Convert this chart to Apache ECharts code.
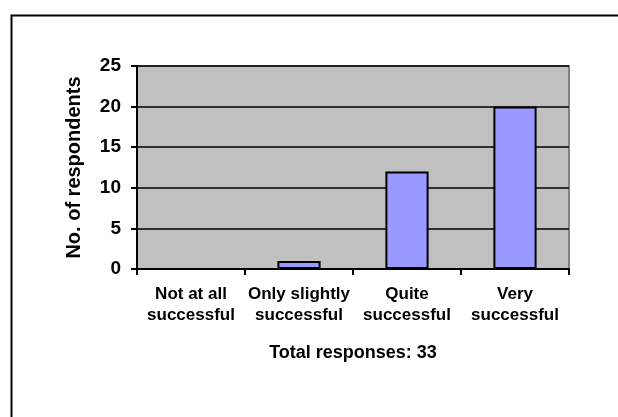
<!DOCTYPE html>
<html>
<head>
<meta charset="utf-8">
<script src="https://cdn.jsdelivr.net/npm/echarts@6/dist/echarts.min.js"></script>
<style>
  html, body { margin: 0; padding: 0; background: #fff; }
  #chart { width: 618px; height: 417px; }
</style>
</head>
<body>
<div id="chart"></div>
<script>
// Survey responses: how successful was it?
const categories = ['Not at all\nsuccessful', 'Only slightly\nsuccessful', 'Quite\nsuccessful', 'Very\nsuccessful'];
const respondents = [0, 1, 12, 20];
const totalResponses = 33;
const yMin = 0, yMax = 25, yStep = 5;

const FONT = '"Liberation Sans", Arial, sans-serif';

const chart = echarts.init(document.getElementById('chart'), null, { renderer: 'canvas' });
chart.setOption({
  animation: false,
  backgroundColor: '#ffffff',
  grid: {
    left: 137, top: 66, right: 49, bottom: 148,
    show: true,
    backgroundColor: '#C0C0C0',
    borderColor: '#808080',
    borderWidth: 2
  },
  graphic: [{
    type: 'rect',
    left: 9, top: 13,
    shape: { width: 700, height: 500 },
    style: { fill: 'none', stroke: '#000', lineWidth: 2 },
    silent: true
  }],
  xAxis: {
    type: 'category',
    data: categories,
    name: 'Total responses: ' + totalResponses,
    nameLocation: 'middle',
    nameGap: 75,
    nameTextStyle: { fontFamily: FONT, fontWeight: 'bold', fontSize: 18, color: '#000' },
    axisLine: { lineStyle: { color: '#000', width: 2 } },
    axisTick: { show: true, length: 6, lineStyle: { color: '#000', width: 2 } },
    axisLabel: {
      margin: 15,
      fontFamily: FONT, fontWeight: 'bold', fontSize: 17, color: '#000',
      lineHeight: 21, interval: 0
    },
    splitLine: { show: false }
  },
  yAxis: {
    type: 'value',
    min: yMin, max: yMax, interval: yStep,
    name: 'No. of respondents',
    nameLocation: 'middle',
    nameRotate: 90,
    nameGap: 53,
    nameTextStyle: { fontFamily: FONT, fontWeight: 'bold', fontSize: 20, color: '#000' },
    axisLine: { show: true, lineStyle: { color: '#000', width: 2 } },
    axisTick: { show: true, length: 6, lineStyle: { color: '#000', width: 2 } },
    axisLabel: { margin: 16, fontFamily: FONT, fontWeight: 'bold', fontSize: 19, color: '#000' },
    splitLine: { show: true, lineStyle: { color: '#000', width: 1.6 } }
  },
  series: [{
    type: 'bar',
    data: respondents,
    barWidth: '40%',
    itemStyle: { color: '#9999FF', borderColor: '#000', borderWidth: 2 }
  }]
});
</script>
</body>
</html>
